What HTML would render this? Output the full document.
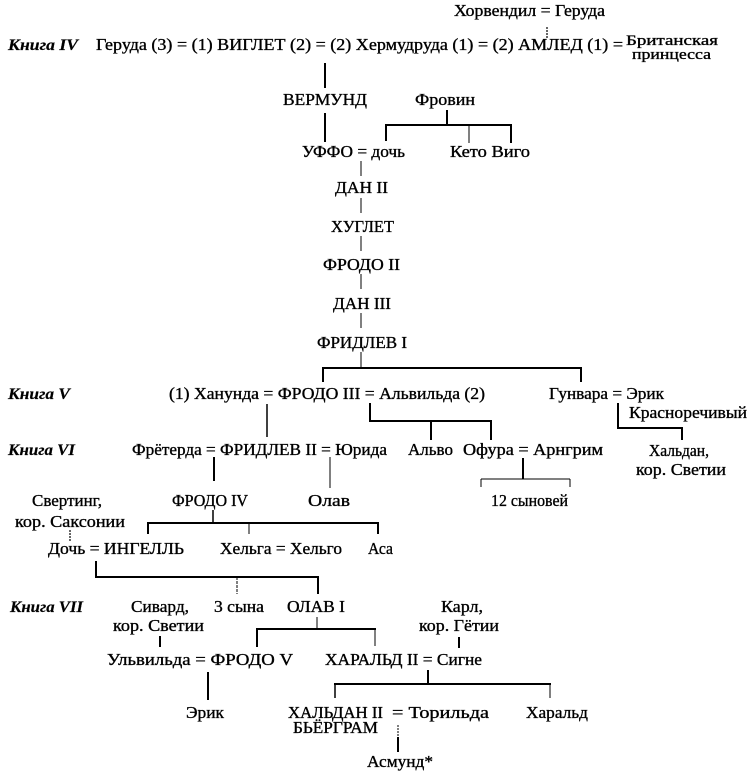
<!DOCTYPE html>
<html><head><meta charset="utf-8">
<style>
html,body{margin:0;padding:0;background:#fff;}
svg{display:block;}
text{font-family:"Liberation Serif","DejaVu Serif",serif;font-size:16.5px;fill:#000;stroke:#000;stroke-width:0.35px;}
.b{font-weight:bold;font-style:italic;font-size:16px;stroke-width:0.2px;}
.s{font-size:14.5px;}
line{stroke:#000;}
</style></head><body>
<svg width="753" height="773" viewBox="0 0 753 773" xmlns="http://www.w3.org/2000/svg">
<!-- texts -->
<text x="454" y="16" textLength="151" lengthAdjust="spacingAndGlyphs">Хорвендил = Геруда</text>
<text class="b" x="8" y="50" textLength="70" lengthAdjust="spacingAndGlyphs">Книга IV</text>
<text x="96" y="50" textLength="527" lengthAdjust="spacingAndGlyphs">Геруда (3) = (1) ВИГЛЕТ (2) = (2) Хермудруда (1) = (2) АМЛЕД (1) =</text>
<text class="s" x="626" y="45" textLength="92" lengthAdjust="spacingAndGlyphs">Британская</text>
<text class="s" x="632" y="59" textLength="79" lengthAdjust="spacingAndGlyphs">принцесса</text>
<text x="283" y="105" textLength="84" lengthAdjust="spacingAndGlyphs">ВЕРМУНД</text>
<text x="415" y="105" textLength="60" lengthAdjust="spacingAndGlyphs">Фровин</text>
<text x="302" y="157" textLength="103" lengthAdjust="spacingAndGlyphs">УФФО = дочь</text>
<text x="450" y="157" textLength="80" lengthAdjust="spacingAndGlyphs">Кето  Виго</text>
<text x="335" y="193" textLength="53" lengthAdjust="spacingAndGlyphs">ДАН II</text>
<text x="331" y="232" textLength="63" lengthAdjust="spacingAndGlyphs">ХУГЛЕТ</text>
<text x="323" y="270" textLength="77" lengthAdjust="spacingAndGlyphs">ФРОДО II</text>
<text x="333" y="309" textLength="58" lengthAdjust="spacingAndGlyphs">ДАН III</text>
<text x="317" y="348" textLength="90" lengthAdjust="spacingAndGlyphs">ФРИДЛЕВ I</text>

<text class="b" x="8" y="399" textLength="62" lengthAdjust="spacingAndGlyphs">Книга V</text>
<text x="169" y="399" textLength="316" lengthAdjust="spacingAndGlyphs">(1) Ханунда = ФРОДО III = Альвильда (2)</text>
<text x="549" y="399" textLength="115" lengthAdjust="spacingAndGlyphs">Гунвара = Эрик</text>
<text x="629" y="418" textLength="118" lengthAdjust="spacingAndGlyphs">Красноречивый</text>

<text class="b" x="8" y="455" textLength="67" lengthAdjust="spacingAndGlyphs">Книга VI</text>
<text x="132" y="455" textLength="255" lengthAdjust="spacingAndGlyphs">Фрётерда = ФРИДЛЕВ II = Юрида</text>
<text x="408" y="455" textLength="45" lengthAdjust="spacingAndGlyphs">Альво</text>
<text x="463" y="455" textLength="140" lengthAdjust="spacingAndGlyphs">Офура = Арнгрим</text>
<text x="649" y="456" textLength="60" lengthAdjust="spacingAndGlyphs">Хальдан,</text>
<text x="636" y="475" textLength="90" lengthAdjust="spacingAndGlyphs">кор. Светии</text>

<text x="32" y="506" textLength="70" lengthAdjust="spacingAndGlyphs">Свертинг,</text>
<text x="172" y="506" textLength="76" lengthAdjust="spacingAndGlyphs">ФРОДО IV</text>
<text x="308" y="506" textLength="42" lengthAdjust="spacingAndGlyphs">Олав</text>
<text x="491" y="506" textLength="77" lengthAdjust="spacingAndGlyphs">12 сыновей</text>
<text x="15" y="527" textLength="110" lengthAdjust="spacingAndGlyphs">кор. Саксонии</text>

<text x="48" y="554" textLength="136" lengthAdjust="spacingAndGlyphs">Дочь = ИНГЕЛЛЬ</text>
<text x="220" y="554" textLength="122" lengthAdjust="spacingAndGlyphs">Хельга = Хельго</text>
<text x="368" y="554" textLength="25" lengthAdjust="spacingAndGlyphs">Аса</text>

<text class="b" x="10" y="612" textLength="73" lengthAdjust="spacingAndGlyphs">Книга VII</text>
<text x="131" y="612" textLength="58" lengthAdjust="spacingAndGlyphs">Сивард,</text>
<text x="214" y="612" textLength="50" lengthAdjust="spacingAndGlyphs">3 сына</text>
<text x="287" y="612" textLength="58" lengthAdjust="spacingAndGlyphs">ОЛАВ I</text>
<text x="441" y="612" textLength="42" lengthAdjust="spacingAndGlyphs">Карл,</text>
<text x="113" y="631" textLength="91" lengthAdjust="spacingAndGlyphs">кор. Светии</text>
<text x="419" y="631" textLength="80" lengthAdjust="spacingAndGlyphs">кор. Гётии</text>

<text x="107" y="665" textLength="186" lengthAdjust="spacingAndGlyphs">Ульвильда = ФРОДО V</text>
<text x="325" y="665" textLength="157" lengthAdjust="spacingAndGlyphs">ХАРАЛЬД II = Сигне</text>

<text x="186" y="718" textLength="38" lengthAdjust="spacingAndGlyphs">Эрик</text>
<text x="288" y="718" textLength="95" lengthAdjust="spacingAndGlyphs">ХАЛЬДАН II</text>
<text x="392" y="718" textLength="97" lengthAdjust="spacingAndGlyphs">= Торильда</text>
<text x="526" y="718" textLength="62" lengthAdjust="spacingAndGlyphs">Харальд</text>
<text x="293" y="733" textLength="85" lengthAdjust="spacingAndGlyphs">БЬЁРГРАМ</text>
<text x="367" y="767" textLength="66" lengthAdjust="spacingAndGlyphs">Асмунд*</text>

<!-- lines -->
<line x1="547" y1="27" x2="547" y2="38" stroke-width="1.2" stroke-dasharray="2,1"/>
<line x1="325" y1="63" x2="325" y2="88" stroke-width="2"/>
<line x1="325" y1="113" x2="325" y2="142" stroke-width="2"/>
<line x1="447" y1="110" x2="447" y2="125" stroke-width="2"/>
<line x1="385" y1="125" x2="512" y2="125" stroke-width="2"/>
<line x1="386" y1="124" x2="386" y2="141" stroke-width="2"/>
<line x1="469" y1="125" x2="469" y2="143" stroke-width="1"/>
<line x1="511" y1="124" x2="511" y2="143" stroke-width="2"/>

<line x1="361" y1="161" x2="361" y2="176" stroke-width="1"/>
<line x1="361" y1="198" x2="361" y2="213" stroke-width="1"/>
<line x1="361" y1="236" x2="361" y2="251" stroke-width="1"/>
<line x1="361" y1="274" x2="361" y2="289" stroke-width="1"/>
<line x1="361" y1="313" x2="361" y2="328" stroke-width="1"/>
<line x1="361" y1="352" x2="361" y2="368" stroke-width="1"/>
<line x1="322" y1="368" x2="582" y2="368" stroke-width="2"/>
<line x1="323" y1="367" x2="323" y2="382" stroke-width="2"/>
<line x1="581" y1="367" x2="581" y2="382" stroke-width="2"/>

<line x1="267" y1="404" x2="267" y2="437" stroke-width="1.5"/>
<line x1="370" y1="403" x2="370" y2="421" stroke-width="2"/>
<line x1="369" y1="421" x2="492" y2="421" stroke-width="2"/>
<line x1="431" y1="421" x2="431" y2="440" stroke-width="2"/>
<line x1="491" y1="420" x2="491" y2="440" stroke-width="2"/>
<line x1="618" y1="403" x2="618" y2="428" stroke-width="2"/>
<line x1="617" y1="428" x2="683" y2="428" stroke-width="2"/>
<line x1="682" y1="427" x2="682" y2="440" stroke-width="2"/>

<line x1="214" y1="457" x2="214" y2="481" stroke-width="2"/>
<line x1="330" y1="457" x2="330" y2="488" stroke-width="1"/>
<line x1="523" y1="458" x2="523" y2="479" stroke-width="2"/>
<line x1="481" y1="479" x2="570" y2="479" stroke-width="1"/>
<line x1="481" y1="479" x2="481" y2="487" stroke-width="1"/>
<line x1="570" y1="479" x2="570" y2="487" stroke-width="1"/>

<line x1="213" y1="510" x2="213" y2="523" stroke-width="1.5"/>
<line x1="147" y1="523" x2="379" y2="523" stroke-width="2"/>
<line x1="148" y1="522" x2="148" y2="534" stroke-width="2"/>
<line x1="249" y1="523" x2="249" y2="534" stroke-width="1"/>
<line x1="378" y1="522" x2="378" y2="534" stroke-width="2"/>
<line x1="70" y1="530" x2="70" y2="542" stroke-width="1.2" stroke-dasharray="2,1"/>

<line x1="96" y1="561" x2="96" y2="577" stroke-width="2"/>
<line x1="95" y1="577" x2="319" y2="577" stroke-width="2"/>
<line x1="318" y1="576" x2="318" y2="594" stroke-width="2"/>
<line x1="237" y1="577" x2="237" y2="594" stroke-width="1" stroke-dasharray="3,1"/>

<line x1="317" y1="617" x2="317" y2="629" stroke-width="1"/>
<line x1="256" y1="629" x2="376" y2="629" stroke-width="2"/>
<line x1="257" y1="628" x2="257" y2="647" stroke-width="2"/>
<line x1="375" y1="629" x2="375" y2="646" stroke-width="1"/>
<line x1="160" y1="636" x2="160" y2="647" stroke-width="2"/>
<line x1="459" y1="637" x2="459" y2="648" stroke-width="2"/>

<line x1="208" y1="672" x2="208" y2="700" stroke-width="2"/>
<line x1="428" y1="670" x2="428" y2="684" stroke-width="2"/>
<line x1="334" y1="684" x2="551" y2="684" stroke-width="2"/>
<line x1="335" y1="683" x2="335" y2="698" stroke-width="1.5"/>
<line x1="550" y1="684" x2="550" y2="698" stroke-width="1"/>
<line x1="398" y1="725" x2="398" y2="738" stroke-width="1" stroke-dasharray="2,1"/>
<line x1="398" y1="737" x2="398" y2="752" stroke-width="2"/>
</svg>
</body></html>
